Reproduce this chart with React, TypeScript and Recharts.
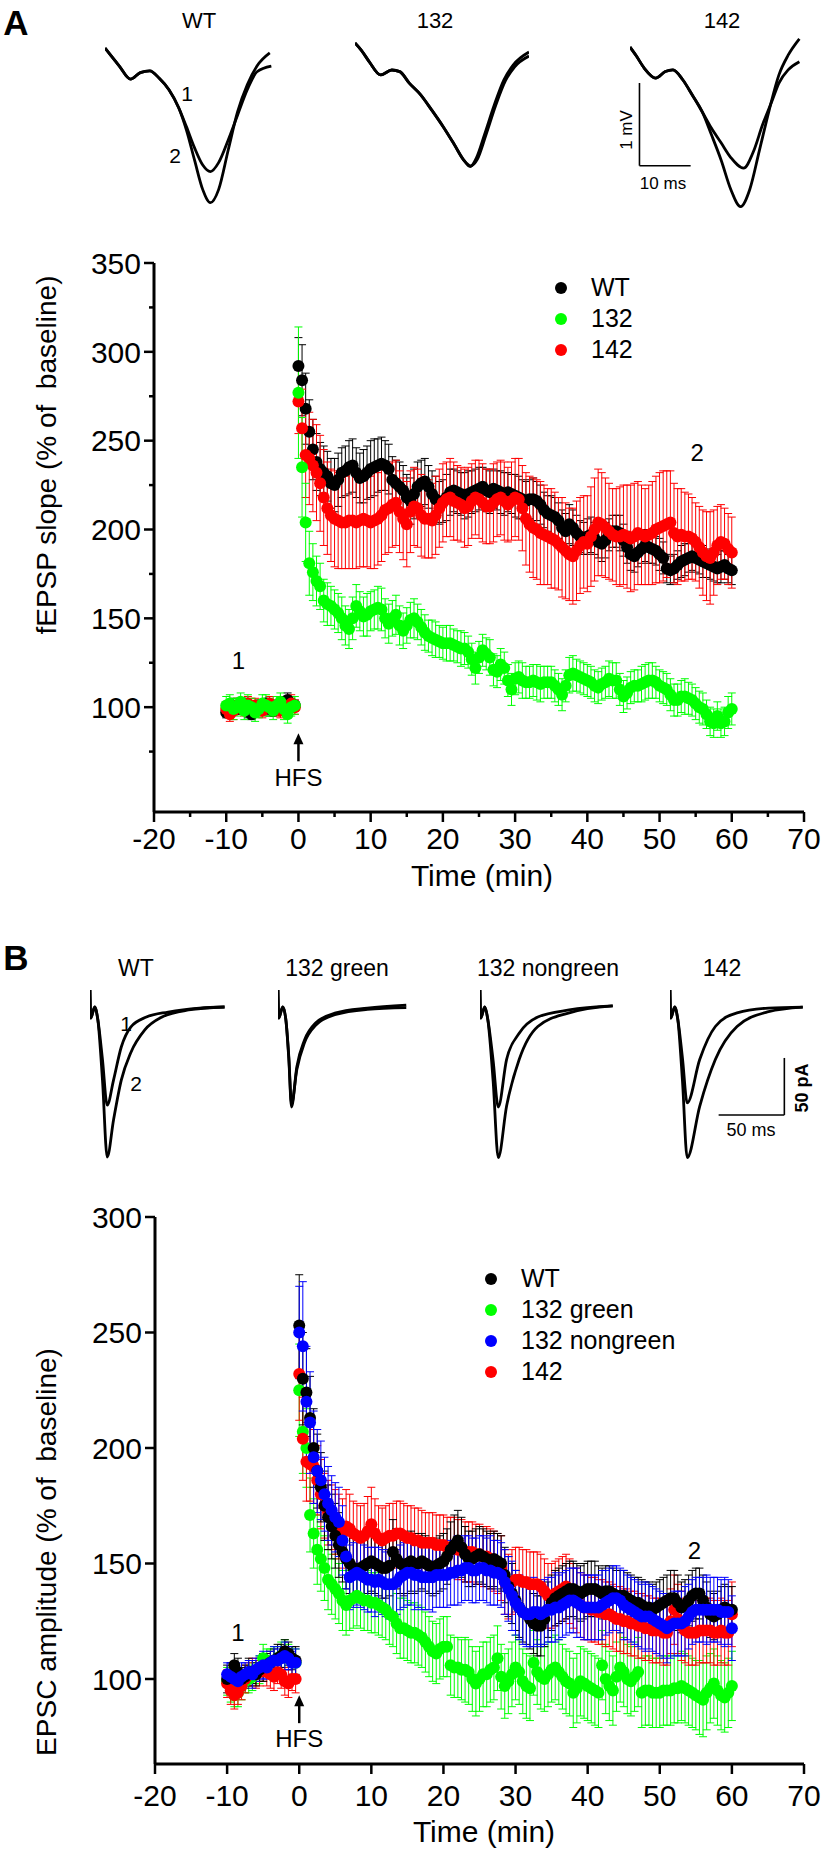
import React from 'react';
import {
  ScatterChart, Scatter, XAxis, YAxis, ErrorBar, Legend, ReferenceDot,
  LineChart, Line, ReferenceLine,
} from 'recharts';

const FONT = '"Liberation Sans", Arial, Helvetica, sans-serif';

// time grid (min)
const baseTimes = [-10, -9.5, -9, -8.5, -8, -7.5, -7, -6.5, -6, -5.5, -5, -4.5, -4, -3.5, -3, -2.5, -2, -1.5, -1, -0.5];
const postTimes = Array.from({ length: 121 }, (_, i) => i * 0.5);

const xTicksA = [-20, -15, -10, -5, 0, 5, 10, 15, 20, 25, 30, 35, 40, 45, 50, 55, 60, 65, 70];
const xTicksB = [-20, -10, 0, 10, 20, 30, 40, 50, 60, 70];
const yTicksA = [75, 100, 125, 150, 175, 200, 225, 250, 275, 300, 325, 350];
const yTicksB = [100, 150, 200, 250, 300];

// ---------- panel A : fEPSP slope ----------
const wtABase = [97, 98, 101, 99, 100, 102, 98, 96, 99, 101, 100, 102, 99, 98, 101, 100, 103, 104, 102, 101];
const wtABaseErr = [3, 3, 4, 3, 3, 3, 4, 3, 3, 3, 3, 3, 4, 3, 3, 3, 3, 4, 3, 3];
const wtAPost = [
  292, 284, 268, 255, 245, 238, 234, 232, 230, 226,
  225, 228, 232, 233, 235, 236, 232, 229, 230, 232,
  234, 235, 236, 237, 236, 234, 228, 226, 224, 222,
  218, 216, 220, 224, 226, 227, 224, 220, 217, 215,
  216, 218, 221, 222, 221, 220, 219, 220, 221, 222,
  223, 224, 222, 221, 223, 222, 221, 220, 221, 220,
  219, 218, 217, 216, 217, 217, 216, 214, 211, 209,
  208, 207, 205, 201, 199, 203, 201, 198, 196, 195,
  196, 197, 195, 193, 192, 194, 197, 199, 199, 198,
  194, 190, 186, 185, 187, 189, 191, 190, 189, 188,
  186, 184, 178, 177, 178, 180, 182, 183, 184, 185,
  184, 183, 182, 181, 180, 179, 178, 179, 180, 178,
  177,
];
const wtAPostErr = [
  16, 20, 20, 18, 17, 16, 15, 15, 14, 14,
  15, 15, 14, 14, 15, 15, 14, 14, 15, 15,
  16, 16, 15, 15, 14, 14, 13, 13, 14, 14,
  13, 13, 14, 14, 13, 13, 12, 13, 13, 12,
  12, 13, 13, 12, 12, 12, 13, 13, 12, 12,
  12, 11, 12, 12, 11, 11, 12, 12, 11, 11,
  12, 12, 11, 11, 11, 12, 11, 11, 10, 10,
  11, 11, 10, 10, 10, 11, 10, 10, 9, 9,
  10, 10, 9, 9, 10, 10, 9, 9, 9, 10,
  9, 9, 9, 9, 8, 8, 9, 9, 8, 8,
  9, 9, 8, 8, 8, 8, 9, 9, 8, 8,
  8, 8, 9, 8, 8, 8, 8, 9, 8, 8,
  8,
];

const m132ABase = [101, 102, 99, 100, 103, 98, 101, 100, 97, 99, 102, 101, 100, 98, 101, 103, 99, 96, 100, 101];
const m132ABaseErr = [5, 5, 6, 5, 5, 5, 6, 5, 5, 5, 5, 6, 5, 5, 5, 5, 6, 5, 5, 5];
const m132APost = [
  277, 235, 204, 181, 176, 171, 168, 160, 158, 157,
  155, 153, 150, 146, 144, 150, 157, 154, 151, 152,
  154, 155, 156, 155, 150, 147, 150, 152, 146, 143,
  146, 149, 150, 148, 145, 142, 140, 139, 138, 137,
  136, 136, 136, 135, 134, 133, 133, 131, 127, 122,
  128, 132, 130, 128, 121, 120, 124, 122, 115, 110,
  116, 117, 115, 114, 114, 115, 114, 113, 114, 114,
  114, 112, 110, 107, 112, 118, 119, 118, 117, 116,
  115, 114, 112, 111, 113, 114, 116, 115, 115, 110,
  106, 108, 111, 112, 112, 113, 114, 115, 115, 114,
  112, 111, 110, 107, 104, 104, 106, 106, 105, 104,
  102, 100, 99, 96, 92, 91, 95, 91, 92, 97,
  99,
];
const m132APostErr = [
  37, 28, 22, 18, 16, 14, 13, 12, 12, 11,
  11, 11, 12, 11, 11, 12, 12, 11, 11, 12,
  11, 11, 12, 12, 11, 11, 10, 11, 11, 10,
  10, 10, 11, 10, 10, 10, 9, 10, 10, 9,
  9, 10, 10, 9, 9, 10, 9, 9, 9, 9,
  9, 9, 9, 10, 9, 9, 9, 9, 9, 9,
  9, 9, 10, 9, 9, 9, 10, 10, 9, 9,
  9, 9, 9, 9, 9, 10, 10, 9, 9, 9,
  9, 9, 9, 9, 9, 9, 10, 10, 10, 9,
  9, 9, 9, 9, 9, 10, 10, 10, 10, 9,
  9, 9, 9, 9, 9, 9, 9, 10, 9, 9,
  9, 9, 9, 8, 8, 8, 8, 8, 8, 9,
  9,
];

const m142ABase = [99, 96, 98, 101, 100, 99, 102, 100, 101, 99, 98, 100, 102, 101, 99, 98, 101, 100, 102, 100];
const m142ABaseErr = [4, 4, 5, 4, 4, 4, 4, 5, 4, 4, 4, 4, 4, 5, 4, 4, 4, 4, 5, 4];
const m142APost = [
  272, 257, 242, 240, 236, 232, 226, 218, 212, 208,
  206, 205, 204, 204, 205, 205, 204, 205, 206, 205,
  204, 205, 206, 208, 211, 212, 214, 215, 210, 206,
  203, 210, 213, 212, 208, 206, 206, 205, 208, 212,
  215, 217, 218, 216, 215, 214, 212, 213, 216, 218,
  217, 215, 213, 213, 215, 217, 218, 216, 214, 216,
  218, 217, 212, 206, 203, 201, 200, 198, 197, 196,
  195, 194, 192, 190, 188, 186, 185, 188, 191, 193,
  192, 196, 200, 204, 203, 201, 199, 197, 196, 196,
  197, 196, 195, 196, 198, 197, 196, 197, 198, 200,
  201, 202, 203, 204, 198, 196, 197, 196, 196, 195,
  193, 190, 187, 185, 184, 187, 191, 193, 192, 189,
  187,
];
const m142APostErr = [
  18, 22, 24, 26, 26, 27, 27, 27, 26, 26,
  27, 27, 26, 26, 27, 27, 26, 26, 27, 26,
  26, 27, 26, 26, 25, 25, 24, 24, 23, 23,
  24, 23, 22, 22, 23, 22, 22, 21, 22, 22,
  22, 21, 22, 22, 21, 21, 22, 22, 21, 21,
  22, 22, 21, 21, 22, 21, 21, 22, 21, 22,
  22, 23, 24, 26, 27, 28, 28, 29, 28, 27,
  28, 27, 26, 28, 27, 26, 27, 28, 27, 26,
  27, 28, 29, 30, 29, 28, 27, 26, 27, 28,
  28, 29, 30, 30, 29, 28, 27, 28, 29, 30,
  31, 31, 30, 29, 28, 27, 26, 25, 24, 23,
  22, 23, 24, 25, 26, 24, 22, 21, 20, 20,
  20,
];

// ---------- panel B : EPSC amplitude ----------
const wtBBase = [100, 102, 106, 103, 100, 101, 103, 103, 102, 104, 105, 106, 107, 108, 109, 110, 112, 111, 109, 108];
const wtBBaseErr = [6, 5, 5, 6, 5, 5, 6, 5, 5, 5, 6, 5, 5, 5, 6, 5, 5, 5, 5, 6];
const wtBPost = [
  253, 230, 224, 213, 200, 190, 183, 175, 170, 166,
  162, 158, 155, 152, 150, 148, 147, 148, 149, 150,
  151, 150, 149, 148, 148, 149, 155, 152, 150, 149,
  150, 151, 150, 150, 151, 150, 149, 148, 149, 150,
  151, 153, 156, 158, 160, 157, 154, 152, 152, 153,
  154, 153, 152, 151, 152, 151, 150, 145, 140, 137,
  134, 131, 129, 128, 126, 124, 123, 123, 126, 130,
  133, 135, 136, 137, 138, 139, 139, 138, 137, 138,
  139, 139, 139, 138, 137, 138, 138, 137, 136, 136,
  136, 135, 134, 133, 133, 132, 131, 131, 130, 131,
  132, 133, 134, 135, 135, 133, 131, 132, 134, 136,
  137, 137, 134, 131, 128, 127, 128, 130, 131, 130,
  130,
];
const wtBPostErr = [
  22, 20, 19, 18, 17, 16, 15, 15, 14, 14,
  14, 14, 13, 13, 13, 13, 13, 13, 13, 13,
  13, 13, 13, 13, 13, 13, 14, 13, 13, 13,
  13, 13, 13, 12, 12, 12, 12, 12, 12, 12,
  12, 12, 12, 13, 13, 13, 12, 12, 12, 12,
  12, 12, 12, 12, 12, 12, 12, 12, 13, 13,
  13, 13, 13, 13, 13, 13, 13, 13, 12, 12,
  12, 12, 12, 12, 12, 12, 12, 12, 12, 12,
  12, 12, 12, 11, 11, 11, 11, 11, 11, 11,
  11, 11, 11, 11, 11, 11, 11, 11, 11, 11,
  11, 11, 11, 12, 12, 12, 11, 11, 11, 11,
  11, 11, 11, 11, 10, 10, 10, 10, 10, 10,
  10,
];

const greenBBase = [99, 96, 93, 94, 97, 99, 100, 101, 103, 104, 109, 108, 107, 108, 109, 110, 111, 110, 108, 107];
const greenBBaseErr = [6, 6, 5, 6, 6, 5, 6, 6, 5, 6, 6, 5, 6, 6, 5, 6, 6, 5, 6, 6];
const greenBPost = [
  225, 207, 200, 171, 163, 156, 152, 148, 143, 141,
  139, 137, 134, 132, 134, 135, 136, 135, 134, 134,
  133, 133, 132, 131, 130, 128, 127, 124, 122, 122,
  121, 120, 120, 119, 118, 116, 114, 112, 111, 113,
  114, 114, 106, 105, 105, 104, 104, 103, 100, 98,
  100, 102, 102, 104, 105, 109, 101, 97, 99, 102,
  105, 103, 99, 97, 96, 107, 103, 101, 100, 102,
  104, 105, 103, 101, 99, 98, 94, 96, 99, 98,
  97, 96, 95, 94, 106, 100, 97, 95, 101, 105,
  103, 100, 99, 101, 103, 94, 95, 95, 94, 94,
  94, 95, 95, 95, 96, 96, 97, 96, 95, 94,
  93, 92, 91, 94, 96, 98, 95, 93, 92, 94,
  97,
];
const greenBPostErr = [
  20, 18, 17, 16, 15, 15, 14, 14, 13, 13,
  13, 13, 13, 13, 13, 13, 13, 13, 13, 13,
  13, 13, 13, 13, 13, 13, 13, 13, 13, 13,
  13, 13, 13, 13, 13, 13, 13, 13, 13, 13,
  13, 13, 13, 13, 13, 13, 14, 14, 14, 14,
  14, 14, 14, 14, 14, 14, 14, 14, 14, 14,
  14, 14, 14, 14, 14, 14, 14, 14, 14, 14,
  14, 14, 14, 14, 14, 14, 15, 15, 15, 15,
  15, 15, 15, 15, 15, 15, 15, 15, 15, 15,
  15, 15, 15, 15, 15, 15, 15, 15, 15, 15,
  15, 15, 15, 15, 15, 15, 15, 15, 15, 15,
  15, 16, 16, 16, 15, 15, 15, 15, 15, 15,
  15,
];

const nongreenBBase = [102, 101, 100, 99, 101, 102, 103, 102, 104, 105, 106, 105, 107, 108, 108, 109, 110, 109, 107, 107];
const nongreenBBaseErr = [5, 6, 5, 5, 6, 5, 5, 6, 5, 5, 6, 5, 5, 6, 5, 5, 6, 5, 5, 6];
const nongreenBPost = [
  250, 244, 220, 211, 196, 190, 186, 180, 176, 173,
  170, 168, 160, 153, 144, 145, 146, 145, 144, 143,
  143, 142, 143, 142, 141, 141, 141, 142, 144, 145,
  146, 146, 145, 145, 144, 144, 144, 144, 145, 145,
  145, 145, 146, 146, 147, 147, 148, 148, 147, 147,
  148, 148, 147, 147, 146, 146, 145, 142, 139, 136,
  133, 131, 129, 128, 128, 129, 129, 128, 129, 130,
  130, 131, 131, 132, 133, 134, 134, 133, 132, 131,
  131, 131, 131, 131, 132, 133, 134, 135, 135, 134,
  132, 131, 130, 129, 128, 127, 127, 127, 126, 125,
  124, 123, 122, 123, 124, 124, 124, 125, 127, 129,
  130, 130, 130, 130, 130, 130, 130, 129, 129, 129,
  122,
];
const nongreenBPostErr = [
  20, 28, 24, 22, 20, 18, 17, 16, 16, 15,
  15, 15, 15, 14, 14, 14, 14, 14, 14, 14,
  14, 15, 14, 14, 14, 15, 14, 14, 14, 14,
  14, 14, 15, 14, 14, 14, 14, 15, 14, 14,
  14, 14, 14, 14, 15, 14, 14, 14, 14, 14,
  14, 14, 14, 15, 14, 14, 14, 14, 14, 15,
  14, 14, 14, 14, 14, 15, 14, 14, 14, 14,
  14, 15, 14, 14, 14, 14, 14, 15, 14, 14,
  14, 14, 14, 14, 15, 14, 14, 14, 14, 14,
  15, 14, 14, 14, 14, 14, 15, 14, 14, 14,
  14, 14, 15, 14, 14, 14, 14, 15, 14, 14,
  14, 14, 14, 15, 14, 14, 14, 14, 15, 14,
  14,
];

const m142BBase = [98, 95, 93, 94, 97, 100, 102, 103, 102, 103, 104, 103, 102, 101, 103, 102, 99, 98, 100, 100];
const m142BBaseErr = [6, 6, 6, 5, 6, 6, 5, 6, 6, 6, 5, 6, 6, 6, 5, 6, 6, 6, 5, 6];
const m142BPost = [
  232, 204, 194, 193, 192, 186, 180, 175, 172, 170,
  168, 166, 163, 166, 165, 163, 162, 161, 162, 164,
  167, 163, 161, 160, 161, 162, 162, 163, 163, 162,
  161, 161, 160, 160, 159, 159, 159, 159, 158, 158,
  158, 157, 157, 157, 156, 156, 155, 155, 155, 154,
  154, 153, 153, 152, 151, 150, 148, 142, 140, 142,
  143, 143, 142, 142, 141, 141, 141, 140, 138, 136,
  136, 137, 138, 139, 140, 138, 136, 134, 132, 131,
  131, 130, 130, 129, 129, 128, 128, 127, 126, 126,
  125, 125, 124, 124, 123, 123, 122, 122, 121, 121,
  121, 120, 120, 125, 130, 126, 123, 121, 120, 120,
  120, 121, 121, 121, 121, 120, 120, 121, 120, 120,
  128,
];
const m142BPostErr = [
  20, 18, 17, 16, 16, 15, 15, 14, 14, 14,
  14, 14, 15, 16, 15, 14, 14, 14, 14, 15,
  16, 15, 14, 14, 14, 14, 14, 14, 14, 14,
  14, 14, 14, 14, 14, 13, 13, 13, 13, 13,
  13, 13, 13, 13, 13, 13, 13, 13, 13, 13,
  13, 13, 13, 13, 13, 13, 14, 14, 14, 14,
  14, 14, 14, 14, 14, 14, 14, 14, 14, 14,
  14, 14, 14, 14, 14, 14, 14, 14, 14, 14,
  14, 14, 14, 14, 14, 14, 14, 14, 14, 14,
  14, 14, 14, 14, 14, 14, 14, 14, 14, 14,
  14, 14, 14, 14, 15, 15, 15, 14, 14, 14,
  14, 14, 14, 14, 14, 14, 14, 14, 14, 14,
  14,
];

// ---------- example traces (ms, mV / pA) ----------
const fepspWt1 = [[0, 0], [1.25, -0.1], [2.8, -0.22], [5, -0.38], [6.9, -0.3], [8.75, -0.28], [10.6, -0.37], [12.5, -0.51], [14.4, -0.73], [15.9, -0.96], [17.5, -1.22], [19.1, -1.43], [20.6, -1.51], [22.2, -1.4], [24.1, -1.12], [25.9, -0.82], [27.8, -0.51], [29.7, -0.29], [32.5, -0.22]];
const fepspWt2 = [[0, 0], [1.25, -0.1], [2.8, -0.22], [5, -0.38], [6.9, -0.3], [8.75, -0.28], [10.6, -0.37], [12.5, -0.51], [14.4, -0.73], [15.9, -1.0], [17.5, -1.37], [19.1, -1.73], [20.6, -1.89], [22.2, -1.73], [24.1, -1.24], [25.9, -0.78], [27.8, -0.45], [29.7, -0.22], [32.2, -0.06]];
const fepsp132a = [[0, 0], [1.25, -0.09], [2.8, -0.23], [5, -0.39], [7.2, -0.33], [8.75, -0.35], [10.6, -0.49], [12.8, -0.63], [15, -0.82], [17.2, -1.02], [19.4, -1.24], [21.25, -1.43], [22.5, -1.51], [23.75, -1.4], [25.3, -1.12], [27.2, -0.76], [29.1, -0.45], [30.9, -0.27], [34, -0.11]];
const fepsp132b = [[0, 0], [1.25, -0.09], [2.8, -0.23], [5, -0.39], [7.2, -0.33], [8.75, -0.35], [10.6, -0.49], [12.8, -0.63], [15, -0.82], [17.2, -1.02], [19.4, -1.24], [21.25, -1.43], [22.6, -1.5], [23.9, -1.42], [25.6, -1.12], [27.5, -0.76], [29.4, -0.46], [31.2, -0.29], [34, -0.16]];
const fepsp142a = [[0, 0], [1.25, -0.11], [2.8, -0.26], [5, -0.38], [6.9, -0.3], [8.4, -0.28], [10.3, -0.4], [12.2, -0.59], [14.1, -0.79], [15.9, -0.99], [17.8, -1.17], [19.7, -1.35], [22.2, -1.48], [24.1, -1.28], [25.9, -0.95], [27.8, -0.65], [29.1, -0.44], [30.9, -0.28], [33.1, -0.18]];
const fepsp142b = [[0, 0], [1.25, -0.11], [2.8, -0.26], [5, -0.38], [6.9, -0.3], [8.4, -0.28], [10.3, -0.4], [12.2, -0.59], [14.1, -0.79], [15.9, -1.07], [17.8, -1.38], [19.7, -1.74], [21.6, -1.95], [23.4, -1.74], [25.3, -1.26], [27.2, -0.77], [29.1, -0.34], [30.9, -0.1], [33.1, 0.1]];

const epscWt1 = [[0, 0], [0.6, -24.6], [3.6, -14.9], [6, -26.3], [9.5, -61], [13.1, -101], [17.9, -79], [23.8, -50], [31, -32.5], [42.9, -23.7], [59.5, -19.3], [83.3, -15.8], [102.4, -14.9]];
const epscWt2 = [[0, 0], [0.6, -24.6], [3.6, -14.9], [6, -26.3], [9.5, -79], [13.1, -146.5], [17.9, -114], [23.8, -79], [31, -55], [41.7, -35], [54.8, -23.7], [75, -17.5], [102.4, -14.9]];
const epscGreen1 = [[0, 0], [0.6, -24.6], [3.6, -14.9], [6, -26.3], [8.2, -60], [10.3, -102.6], [14.3, -67.5], [20.2, -43.9], [28.6, -29], [44, -20], [68, -15.8], [97.6, -13.2]];
const epscGreen2 = [[0, 0], [0.6, -24.6], [3.6, -14.9], [6, -26.3], [8.2, -58], [10.3, -100], [14.3, -70], [20.2, -46], [28.6, -31], [44, -21.5], [68, -17], [97.6, -15.5]];
const epscNongreen1 = [[0, 0], [0.6, -24.6], [3.6, -14.9], [6, -26.3], [10, -62], [13.9, -102.6], [20.2, -61], [29.8, -38], [44, -23.7], [67.9, -17.5], [101, -14]];
const epscNongreen2 = [[0, 0], [0.6, -24.6], [3.6, -14.9], [6, -26.3], [10, -80], [13.9, -147], [20.2, -102], [29.8, -61], [44, -32], [67.9, -20], [101, -14]];
const epsc142a = [[0, 0], [0.6, -24.6], [3.6, -14.9], [6, -26.3], [9.5, -60], [13.1, -99], [22.6, -61], [34.5, -32], [51, -20], [75, -15.8], [101, -15]];
const epsc142b = [[0, 0], [0.6, -24.6], [3.6, -14.9], [6, -26.3], [9.5, -80], [13.1, -147], [22.6, -102], [34.5, -61], [51, -32], [75, -19], [101, -15]];

const COLORS: Record<string, string> = {
  WT: '#000000',
  '132': '#00ff00',
  '142': '#ff0000',
  '132 green': '#00ff00',
  '132 nongreen': '#0000ff',
};

const toPoints = (times: number[], vals: number[], errs: number[]) =>
  times.map((t, i) => ({ t, v: vals[i], e: errs[i] }));

const seriesA = [
  { name: 'WT', data: [...toPoints(baseTimes, wtABase, wtABaseErr), ...toPoints(postTimes, wtAPost, wtAPostErr)] },
  { name: '142', data: [...toPoints(baseTimes, m142ABase, m142ABaseErr), ...toPoints(postTimes, m142APost, m142APostErr)] },
  { name: '132', data: [...toPoints(baseTimes, m132ABase, m132ABaseErr), ...toPoints(postTimes, m132APost, m132APostErr)] },
];
const seriesB = [
  { name: '132 green', data: [...toPoints(baseTimes, greenBBase, greenBBaseErr), ...toPoints(postTimes, greenBPost, greenBPostErr)] },
  { name: '142', data: [...toPoints(baseTimes, m142BBase, m142BBaseErr), ...toPoints(postTimes, m142BPost, m142BPostErr)] },
  { name: 'WT', data: [...toPoints(baseTimes, wtBBase, wtBBaseErr), ...toPoints(postTimes, wtBPost, wtBPostErr)] },
  { name: '132 nongreen', data: [...toPoints(baseTimes, nongreenBBase, nongreenBBaseErr), ...toPoints(postTimes, nongreenBPost, nongreenBPostErr)] },
];
const legendOrderA = ['WT', '132', '142'];
const legendOrderB = ['WT', '132 green', '132 nongreen', '142'];

const dotShape = (color: string) => (p: any) => <circle cx={p.cx} cy={p.cy} r={6} fill={color} />;

const makeXTick = (labelDy: number) => (p: any) => {
  const { x, y, payload } = p;
  const major = payload.value % 10 === 0;
  return (
    <g>
      <line x1={x} y1={y} x2={x} y2={y + (major ? 10 : 5)} stroke="#000" strokeWidth={2.5} />
      {major && (
        <text x={x} y={y + labelDy} textAnchor="middle" fontSize={30} fontFamily={FONT} fill="#000">
          {payload.value}
        </text>
      )}
    </g>
  );
};

const makeYTick = (labelEvery: number) => (p: any) => {
  const { x, y, payload } = p;
  const major = payload.value % labelEvery === 0;
  return (
    <g>
      <line x1={x} y1={y} x2={x - (major ? 10 : 5)} y2={y} stroke="#000" strokeWidth={2.5} />
      {major && (
        <text x={x - 13} y={y} dy="0.36em" textAnchor="end" fontSize={30} fontFamily={FONT} fill="#000">
          {payload.value}
        </text>
      )}
    </g>
  );
};

const textShape = (label: string, size: number) => (p: any) => (
  <text x={p.cx} y={p.cy} dy="0.36em" textAnchor="middle" fontSize={size} fontFamily={FONT} fill="#000">
    {label}
  </text>
);

const arrowShape = (p: any) => (
  <g>
    <line x1={p.cx} y1={p.cy + 8} x2={p.cx} y2={p.cy + 28} stroke="#000" strokeWidth={2.5} />
    <path d={`M ${p.cx} ${p.cy} L ${p.cx - 5} ${p.cy + 11} L ${p.cx + 5} ${p.cy + 11} Z`} fill="#000" />
  </g>
);

const makeLegend = (order: string[]) => (props: any) => {
  const items = [...(props.payload || [])].sort((a: any, b: any) => order.indexOf(a.value) - order.indexOf(b.value));
  return (
    <div style={{ fontFamily: FONT, fontSize: 25, color: '#000' }}>
      {items.map((it: any) => (
        <div key={it.value} style={{ display: 'flex', alignItems: 'center', height: 31, whiteSpace: 'nowrap' }}>
          <span style={{ width: 12, height: 12, borderRadius: 6, background: COLORS[it.value], display: 'inline-block' }} />
          <span style={{ marginLeft: 24 }}>{it.value}</span>
        </div>
      ))}
    </div>
  );
};

function TraceInset(props: {
  left: number; top: number; width: number; height: number;
  xMax: number; yDomain: [number, number]; traces: number[][][];
  bar?: { x: number; y1: number; y2: number; x2: number };
}) {
  const { left, top, width, height, xMax, yDomain, traces, bar } = props;
  const pad = 3;
  return (
    <div style={{ position: 'absolute', left: left - pad, top: top - pad }}>
      <LineChart width={width + 2 * pad} height={height + 2 * pad} margin={{ top: pad, right: pad, bottom: pad, left: pad }}>
        <XAxis type="number" dataKey="x" domain={[0, xMax]} hide allowDataOverflow />
        <YAxis type="number" dataKey="y" domain={yDomain} hide allowDataOverflow />
        {traces.map((tr, i) => (
          <Line
            key={i}
            data={tr.map(([x, y]) => ({ x, y }))}
            dataKey="y"
            type="monotone"
            stroke="#000"
            strokeWidth={2.8}
            dot={false}
            isAnimationActive={false}
          />
        ))}
        {bar && (
          <ReferenceLine segment={[{ x: bar.x, y: bar.y1 }, { x: bar.x, y: bar.y2 }]} stroke="#000" strokeWidth={1.6} ifOverflow="visible" />
        )}
        {bar && (
          <ReferenceLine segment={[{ x: bar.x, y: bar.y2 }, { x: bar.x2, y: bar.y2 }]} stroke="#000" strokeWidth={1.6} ifOverflow="visible" />
        )}
      </LineChart>
    </div>
  );
}

const Txt = (p: { x: number; y: number; size: number; children: React.ReactNode; bold?: boolean; rotate?: boolean }) => (
  <div
    style={{
      position: 'absolute', left: p.x, top: p.y, whiteSpace: 'nowrap',
      transform: `translate(-50%, -50%)${p.rotate ? ' rotate(-90deg)' : ''}`,
      fontFamily: FONT, fontSize: p.size, fontWeight: p.bold ? 700 : 400,
      lineHeight: 1, color: '#000',
    }}
  >
    {p.children}
  </div>
);

export default function App() {
  const domA: [number, number] = [-2.04, 0.22];
  const domB: [number, number] = [-153.5, 4.4];
  return (
    <div style={{ position: 'relative', width: 826, height: 1849, background: '#fff', overflow: 'hidden' }}>
      <style>{'body{margin:0}'}</style>

      {/* ---------- A ---------- */}
      <Txt x={16} y={22} size={35} bold>A</Txt>
      <Txt x={199} y={21} size={22}>WT</Txt>
      <Txt x={435} y={21} size={22}>132</Txt>
      <Txt x={722} y={21} size={22}>142</Txt>

      <TraceInset left={105} top={30} width={174} height={185} xMax={34} yDomain={domA} traces={[fepspWt1, fepspWt2]} />
      <TraceInset left={355} top={25} width={174} height={185} xMax={34} yDomain={domA} traces={[fepsp132a, fepsp132b]} />
      <TraceInset left={630} top={29} width={174} height={185} xMax={34} yDomain={domA} traces={[fepsp142a, fepsp142b]}
        bar={{ x: 1.85, y1: -0.44, y2: -1.45, x2: 11.85 }} />
      <Txt x={187} y={93} size={21}>1</Txt>
      <Txt x={175} y={155} size={21}>2</Txt>
      <Txt x={626} y={130} size={17} rotate>1 mV</Txt>
      <Txt x={663} y={183} size={17}>10 ms</Txt>

      <div style={{ position: 'absolute', left: 0, top: 220 }}>
        <ScatterChart width={826} height={680} margin={{ top: 43, right: 22, bottom: 0, left: 0 }}>
          <XAxis type="number" dataKey="t" domain={[-20, 70]} ticks={xTicksA} interval={0} allowDataOverflow
            height={88} tickSize={0} tickMargin={0} tickLine={false} tick={makeXTick(37)}
            axisLine={{ stroke: '#000', strokeWidth: 3 }} />
          <YAxis type="number" dataKey="v" domain={[41, 350]} ticks={yTicksA} interval={0} allowDataOverflow
            width={154} tickSize={0} tickMargin={0} tickLine={false} tick={makeYTick(50)}
            axisLine={{ stroke: '#000', strokeWidth: 3 }} />
          {seriesA.map((s) => (
            <Scatter key={s.name} name={s.name} data={s.data} fill={COLORS[s.name]} shape={dotShape(COLORS[s.name])} isAnimationActive={false}>
              <ErrorBar dataKey="e" direction="y" width={4} stroke={COLORS[s.name]} strokeWidth={1} />
            </Scatter>
          ))}
          <ReferenceDot x={-8.3} y={126.5} r={0} shape={textShape('1', 24)} />
          <ReferenceDot x={55.2} y={243.5} r={0} shape={textShape('2', 24)} />
          <ReferenceDot x={0} y={85.3} r={0} shape={arrowShape} />
          <ReferenceDot x={0} y={60.5} r={0} shape={textShape('HFS', 24)} />
          <Legend layout="vertical" align="center" verticalAlign="middle" content={makeLegend(legendOrderA)}
            wrapperStyle={{ top: 52, left: 555, width: 180 }} />
        </ScatterChart>
      </div>
      <Txt x={47} y={455} size={28} rotate>fEPSP slope (% of&nbsp; baseline)</Txt>
      <Txt x={482} y={876} size={30}>Time (min)</Txt>

      {/* ---------- B ---------- */}
      <Txt x={16} y={957} size={35} bold>B</Txt>
      <Txt x={136} y={968} size={23}>WT</Txt>
      <Txt x={337} y={968} size={23}>132 green</Txt>
      <Txt x={548} y={968} size={23}>132 nongreen</Txt>
      <Txt x={722} y={968} size={23}>142</Txt>

      <TraceInset left={90} top={985} width={138} height={180} xMax={105} yDomain={domB} traces={[epscWt1, epscWt2]} />
      <TraceInset left={278} top={985} width={138} height={180} xMax={105} yDomain={domB} traces={[epscGreen1, epscGreen2]} />
      <TraceInset left={480} top={985} width={138} height={180} xMax={105} yDomain={domB} traces={[epscNongreen1, epscNongreen2]} />
      <TraceInset left={670} top={985} width={138} height={180} xMax={105} yDomain={domB} traces={[epsc142a, epsc142b]}
        bar={{ x: 87, y1: -59.6, y2: -109.6, x2: 37 }} />
      <Txt x={126} y={1023} size={21}>1</Txt>
      <Txt x={136} y={1083} size={21}>2</Txt>
      <Txt x={802} y={1088} size={18} bold rotate>50 pA</Txt>
      <Txt x={751} y={1130} size={18}>50 ms</Txt>

      <div style={{ position: 'absolute', left: 0, top: 1190 }}>
        <ScatterChart width={826} height={659} margin={{ top: 27, right: 22, bottom: 0, left: 0 }}>
          <XAxis type="number" dataKey="t" domain={[-20, 70]} ticks={xTicksB} interval={0} allowDataOverflow
            height={85} tickSize={0} tickMargin={0} tickLine={false} tick={makeXTick(42)}
            axisLine={{ stroke: '#000', strokeWidth: 3 }} />
          <YAxis type="number" dataKey="v" domain={[63.2, 300]} ticks={yTicksB} interval={0} allowDataOverflow
            width={155} tickSize={0} tickMargin={0} tickLine={false} tick={makeYTick(50)}
            axisLine={{ stroke: '#000', strokeWidth: 3 }} />
          {seriesB.map((s) => (
            <Scatter key={s.name} name={s.name} data={s.data} fill={COLORS[s.name]} shape={dotShape(COLORS[s.name])} isAnimationActive={false}>
              <ErrorBar dataKey="e" direction="y" width={4} stroke={COLORS[s.name]} strokeWidth={1} />
            </Scatter>
          ))}
          <ReferenceDot x={-8.5} y={120.3} r={0} shape={textShape('1', 24)} />
          <ReferenceDot x={54.8} y={155.8} r={0} shape={textShape('2', 24)} />
          <ReferenceDot x={0} y={93} r={0} shape={arrowShape} />
          <ReferenceDot x={0} y={74.5} r={0} shape={textShape('HFS', 24)} />
          <Legend layout="vertical" align="center" verticalAlign="middle" content={makeLegend(legendOrderB)}
            wrapperStyle={{ top: 73, left: 485, width: 220 }} />
        </ScatterChart>
      </div>
      <Txt x={47} y={1552} size={28} rotate>EPSC amplitude (% of&nbsp; baseline)</Txt>
      <Txt x={484} y={1832} size={30}>Time (min)</Txt>
    </div>
  );
}
